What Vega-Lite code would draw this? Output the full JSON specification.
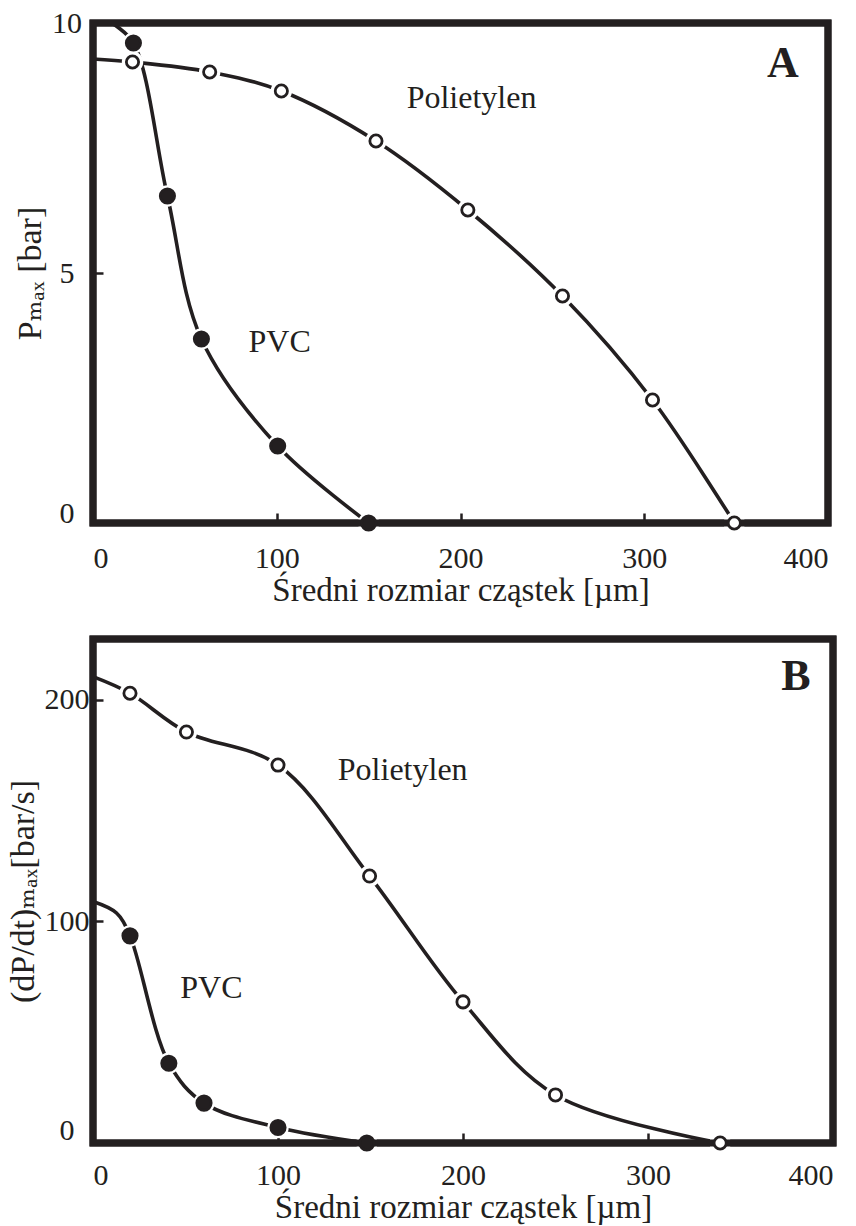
{
  "$schema": "https://vega.github.io/schema/vega-lite/v6.json",
  "background": "white",
  "padding": {"left": 2, "top": 4, "right": 10, "bottom": 2},
  "spacing": 21,
  "config": {
    "view": {"stroke": "#231f20", "strokeWidth": 7},
    "font": "Liberation Serif",
    "axis": {
      "labelFont": "Liberation Serif",
      "titleFont": "Liberation Serif, DejaVu Serif, serif",
      "labelColor": "#231f20",
      "titleColor": "#231f20",
      "labelFontSize": 30,
      "titleFontSize": 33,
      "titleFontWeight": "normal",
      "domain": false,
      "grid": false,
      "tickColor": "#231f20",
      "tickWidth": 2.5,
      "tickSize": -10
    }
  },
  "datasets": {
    "panelA": [
      {"material": "PVC", "particle_size": 10, "value": 10, "measured": false},
      {"material": "PVC", "particle_size": 22, "value": 9.6, "measured": true},
      {"material": "PVC", "particle_size": 40.5, "value": 6.54, "measured": true},
      {"material": "PVC", "particle_size": 59, "value": 3.68, "measured": true},
      {"material": "PVC", "particle_size": 100.5, "value": 1.54, "measured": true},
      {"material": "PVC", "particle_size": 150, "value": 0, "measured": true},
      {"material": "Polietylen", "particle_size": 0, "value": 9.28, "measured": false},
      {"material": "Polietylen", "particle_size": 21.5, "value": 9.22, "measured": true},
      {"material": "Polietylen", "particle_size": 63.5, "value": 9.02, "measured": true},
      {"material": "Polietylen", "particle_size": 102.5, "value": 8.64, "measured": true},
      {"material": "Polietylen", "particle_size": 154, "value": 7.64, "measured": true},
      {"material": "Polietylen", "particle_size": 204, "value": 6.26, "measured": true},
      {"material": "Polietylen", "particle_size": 255.5, "value": 4.54, "measured": true},
      {"material": "Polietylen", "particle_size": 304.5, "value": 2.46, "measured": true},
      {"material": "Polietylen", "particle_size": 349, "value": 0, "measured": true}
    ],
    "panelB": [
      {"material": "PVC", "particle_size": 0, "value": 109, "measured": false},
      {"material": "PVC", "particle_size": 12.7, "value": 103.8, "measured": false},
      {"material": "PVC", "particle_size": 20, "value": 93.5, "measured": true},
      {"material": "PVC", "particle_size": 41, "value": 36, "measured": true},
      {"material": "PVC", "particle_size": 60, "value": 18, "measured": true},
      {"material": "PVC", "particle_size": 100, "value": 7, "measured": true},
      {"material": "PVC", "particle_size": 148, "value": 0, "measured": true},
      {"material": "Polietylen", "particle_size": 0, "value": 210.5, "measured": false},
      {"material": "Polietylen", "particle_size": 20, "value": 203, "measured": true},
      {"material": "Polietylen", "particle_size": 50.5, "value": 185.5, "measured": true},
      {"material": "Polietylen", "particle_size": 100, "value": 170.6, "measured": true},
      {"material": "Polietylen", "particle_size": 149.5, "value": 120.5, "measured": true},
      {"material": "Polietylen", "particle_size": 200, "value": 63.7, "measured": true},
      {"material": "Polietylen", "particle_size": 250, "value": 21.7, "measured": true},
      {"material": "Polietylen", "particle_size": 339, "value": 0, "measured": true}
    ],
    "labelsA": [
      {"label": "Polietylen", "particle_size": 206, "value": 8.5},
      {"label": "PVC", "particle_size": 101.6, "value": 3.62}
    ],
    "labelsB": [
      {"label": "Polietylen", "particle_size": 167.4, "value": 168.4},
      {"label": "PVC", "particle_size": 64, "value": 70}
    ],
    "letterA": [{"label": "A", "particle_size": 375.5, "value": 8.92}],
    "letterB": [{"label": "B", "particle_size": 380, "value": 204.5}],
    "frameA": [{"x0": 0, "x1": 400, "y0": 0, "y1": 10}],
    "frameB": [{"x0": 0, "x1": 400, "y0": 0, "y1": 227.5}]
  },
  "vconcat": [
    {
      "width": 735,
      "height": 500,
      "encoding": {
        "x": {
          "field": "particle_size",
          "type": "quantitative",
          "scale": {"domain": [0, 400], "nice": false, "zero": false},
          "axis": {
            "values": [0, 100, 200, 300, 400],
            "title": "Średni rozmiar cząstek [µm]",
            "labelPadding": 30,
            "titlePadding": 1
          }
        },
        "y": {
          "field": "value",
          "type": "quantitative",
          "scale": {"domain": [0, 10], "nice": false},
          "axis": {
            "values": [0, 5, 10],
            "title": "Pₘₐₓ [bar]",
            "titleFontSize": 34,
            "labelAlign": "center",
            "labelPadding": 36.5,
            "labelOffset": {"condition": {"test": "datum.value === 0", "value": -10}, "value": 0}
          }
        }
      },
      "layer": [
        {
          "data": {"name": "panelA"},
          "mark": {"type": "line", "interpolate": "catmull-rom", "color": "#231f20", "strokeWidth": 3.6},
          "encoding": {"detail": {"field": "material"}}
        },
        {
          "data": {"name": "panelA"},
          "transform": [{"filter": "datum.measured"}],
          "mark": {"type": "point", "shape": "circle", "filled": true, "color": "white", "opacity": 1, "size": 460}
        },
        {
          "data": {"name": "frameA"},
          "mark": {"type": "rect", "filled": false, "color": "#231f20", "strokeWidth": 7, "opacity": 1},
          "encoding": {
            "x": {"field": "x0", "type": "quantitative"},
            "x2": {"field": "x1"},
            "y": {"field": "y0", "type": "quantitative"},
            "y2": {"field": "y1"}
          }
        },
        {
          "data": {"name": "panelA"},
          "transform": [{"filter": "datum.measured"}],
          "mark": {"type": "point", "shape": "circle", "stroke": "#231f20", "strokeWidth": 2.8, "opacity": 1},
          "encoding": {
            "fill": {"field": "material", "type": "nominal", "scale": {"domain": ["PVC", "Polietylen"], "range": ["#231f20", "white"]}, "legend": null},
            "size": {"field": "material", "type": "nominal", "scale": {"domain": ["PVC", "Polietylen"], "range": [205, 150]}, "legend": null}
          }
        },
        {
          "data": {"name": "labelsA"},
          "mark": {"type": "text", "font": "Liberation Serif", "fontSize": 32, "color": "#231f20", "baseline": "middle", "align": "center"},
          "encoding": {"text": {"field": "label"}}
        },
        {
          "data": {"name": "letterA"},
          "mark": {"type": "text", "font": "Liberation Serif", "fontSize": 44, "fontWeight": "bold", "color": "#231f20", "baseline": "alphabetic", "align": "center"},
          "encoding": {"text": {"field": "label"}}
        }
      ]
    },
    {
      "width": 740,
      "height": 504,
      "encoding": {
        "x": {
          "field": "particle_size",
          "type": "quantitative",
          "scale": {"domain": [0, 400], "nice": false, "zero": false},
          "axis": {
            "values": [0, 100, 200, 300, 400],
            "title": "Średni rozmiar cząstek [µm]",
            "labelPadding": 27,
            "titlePadding": 1
          }
        },
        "y": {
          "field": "value",
          "type": "quantitative",
          "scale": {"domain": [0, 227.5], "nice": false},
          "axis": {
            "values": [0, 100, 200],
            "title": "(dP/dt)ₘₐₓ[bar/s]",
            "titleFontSize": 34,
            "labelAlign": "center",
            "labelPadding": 36.5,
            "labelOffset": {"condition": {"test": "datum.value === 0", "value": -13}, "value": 0}
          }
        }
      },
      "layer": [
        {
          "data": {"name": "panelB"},
          "mark": {"type": "line", "interpolate": "catmull-rom", "color": "#231f20", "strokeWidth": 3.6},
          "encoding": {"detail": {"field": "material"}}
        },
        {
          "data": {"name": "panelB"},
          "transform": [{"filter": "datum.measured"}],
          "mark": {"type": "point", "shape": "circle", "filled": true, "color": "white", "opacity": 1, "size": 460}
        },
        {
          "data": {"name": "frameB"},
          "mark": {"type": "rect", "filled": false, "color": "#231f20", "strokeWidth": 7, "opacity": 1},
          "encoding": {
            "x": {"field": "x0", "type": "quantitative"},
            "x2": {"field": "x1"},
            "y": {"field": "y0", "type": "quantitative"},
            "y2": {"field": "y1"}
          }
        },
        {
          "data": {"name": "panelB"},
          "transform": [{"filter": "datum.measured"}],
          "mark": {"type": "point", "shape": "circle", "stroke": "#231f20", "strokeWidth": 2.8, "opacity": 1},
          "encoding": {
            "fill": {"field": "material", "type": "nominal", "scale": {"domain": ["PVC", "Polietylen"], "range": ["#231f20", "white"]}, "legend": null},
            "size": {"field": "material", "type": "nominal", "scale": {"domain": ["PVC", "Polietylen"], "range": [205, 150]}, "legend": null}
          }
        },
        {
          "data": {"name": "labelsB"},
          "mark": {"type": "text", "font": "Liberation Serif", "fontSize": 32, "color": "#231f20", "baseline": "middle", "align": "center"},
          "encoding": {"text": {"field": "label"}}
        },
        {
          "data": {"name": "letterB"},
          "mark": {"type": "text", "font": "Liberation Serif", "fontSize": 44, "fontWeight": "bold", "color": "#231f20", "baseline": "alphabetic", "align": "center"},
          "encoding": {"text": {"field": "label"}}
        }
      ]
    }
  ],
  "resolve": {"scale": {"fill": "independent", "size": "independent"}}
}
